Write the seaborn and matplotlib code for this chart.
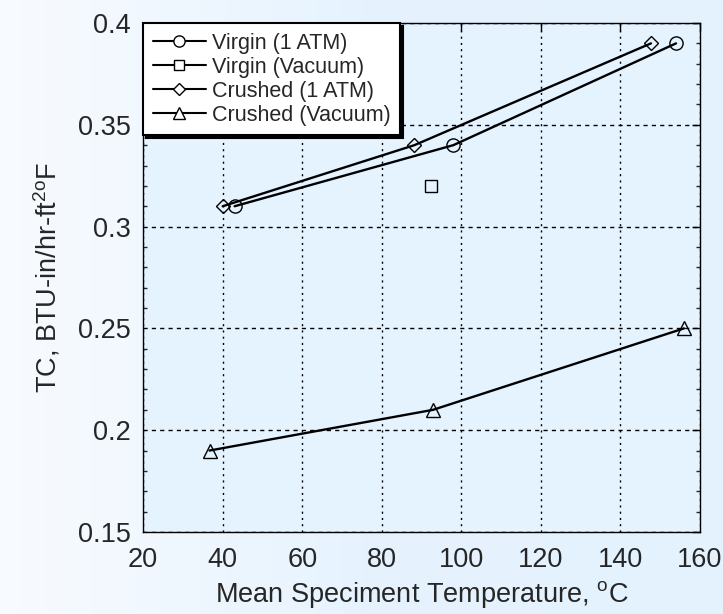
import numpy as np
import pandas as pd
import matplotlib
matplotlib.use("Agg")
import matplotlib.pyplot as plt
import seaborn as sns
from matplotlib.colors import LinearSegmentedColormap

# Data
virgin_atm_x = [43, 98, 154]
virgin_atm_y = [0.31, 0.34, 0.39]
virgin_vac_x = [92.3]
virgin_vac_y = [0.32]
crushed_atm_x = [40, 88.2, 147.7]
crushed_atm_y = [0.31, 0.34, 0.39]
crushed_vac_x = [36.7, 92.9, 156]
crushed_vac_y = [0.19, 0.21, 0.25]

labels = ["Virgin (1 ATM)", "Virgin (Vacuum)", "Crushed (1 ATM)", "Crushed (Vacuum)"]
markers = ["o", "s", "D", "^"]
msizes = [9.5, 9, 7.5, 9.5]

xticks = [20, 40, 60, 80, 100, 120, 140, 160]
yticks = [0.15, 0.2, 0.25, 0.3, 0.35, 0.4]
ytick_labels = ["0.15", "0.2", "0.25", "0.3", "0.35", "0.4"]

sns.set_style("white")
plt.rcParams["font.family"] = ["Liberation Sans", "DejaVu Sans"]
plt.rcParams["mathtext.default"] = "regular"

fig = plt.figure(figsize=(7.23, 6.14), dpi=100)
# gradient background
bg = fig.add_axes([0, 0, 1, 1], zorder=-10)
grad = np.linspace(0, 1, 256)[None, :]
cmap = LinearSegmentedColormap.from_list("bg", ["#F8FBFF", "#E6F3FE", "#E4F2FE"])
bg.imshow(grad, aspect="auto", cmap=cmap, extent=[0, 1, 0, 1])
bg.axis("off")

ax = fig.add_axes([0.198, 0.1336, 0.770, 0.8289])
ax.set_facecolor("#E5F3FF")

series = [(virgin_atm_x, virgin_atm_y), (virgin_vac_x, virgin_vac_y),
          (crushed_atm_x, crushed_atm_y), (crushed_vac_x, crushed_vac_y)]
for (xs, ys), lab, mk, ms in zip(series, labels, markers, msizes):
    df = pd.DataFrame({"x": xs, "y": ys})
    sns.lineplot(data=df, x="x", y="y", ax=ax, color="black", linewidth=1.7,
                 marker=mk, markersize=ms, markerfacecolor="none",
                 markeredgecolor="black", markeredgewidth=1, sort=False,
                 label=lab, legend=False, zorder=3)

ax.set_xlim(20, 160)
ax.set_ylim(0.15, 0.4)
ax.set_xticks(xticks)
ax.set_yticks(yticks)
ax.set_yticklabels(ytick_labels)
ax.set_yticks(np.arange(0.15, 0.4001, 0.01), minor=True)
ax.tick_params(axis="both", which="major", direction="in", length=6, width=1,
               top=True, right=True, labelsize=19.5, color="black")
ax.tick_params(axis="x", which="major", pad=11)
ax.tick_params(axis="y", which="major", pad=9)
ax.tick_params(axis="y", which="minor", direction="in", length=3, width=1,
               left=True, right=True)

ax.xaxis.grid(True, linestyle=(0, (1.5, 3)), color="black", linewidth=1)
ax.yaxis.grid(True, linestyle=(0, (3, 3)), color="black", linewidth=1)
ax.set_axisbelow(True)
for s in ax.spines.values():
    s.set_color("black")
    s.set_linewidth(1)

ax.set_xlabel("Mean Speciment Temperature, $^{o}$C", fontsize=19.5, labelpad=4)
ax.set_ylabel("TC, BTU-in/hr-ft$^{2o}$F", fontsize=19.5, labelpad=11)

handles = [plt.Line2D([], [], color="black", linewidth=1.5, marker=mk, markersize=ms * 0.85,
                      markerfacecolor="white", markeredgecolor="black", markeredgewidth=1)
           for mk, ms in zip(markers, msizes)]
leg = ax.legend(handles, labels, loc="upper left", borderaxespad=0, fontsize=15.5,
                frameon=True, fancybox=False, shadow={"color": "black", "alpha": 1},
                edgecolor="black", framealpha=1, handlelength=2.45, handletextpad=0.3,
                labelspacing=0.14, borderpad=0.45)
leg.get_frame().set_linewidth(1.5)
leg.set_zorder(5)

fig.savefig("out.png", dpi=100)
